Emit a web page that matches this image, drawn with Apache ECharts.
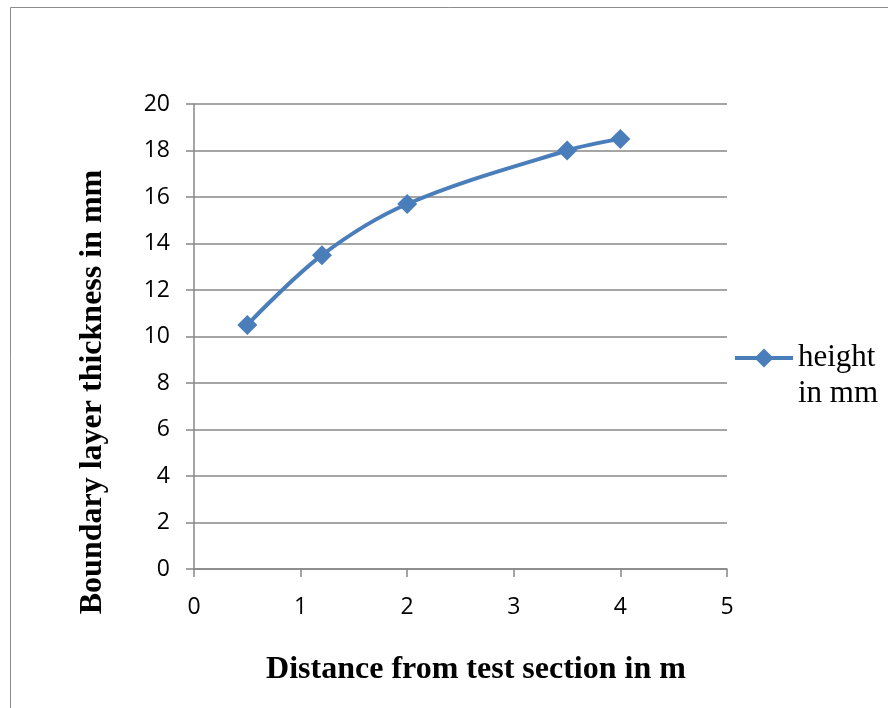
<!DOCTYPE html>
<html>
<head>
<meta charset="utf-8">
<script src="https://cdn.jsdelivr.net/npm/echarts@6/dist/echarts.min.js"></script>
<style>
  html, body { margin: 0; padding: 0; background: #ffffff; }
  #chart { width: 888px; height: 708px; }
</style>
</head>
<body>
<div id="chart"></div>
<script>
// Measured boundary layer thickness along the test section
const distanceM = [0.5, 1.2, 2, 3.5, 4];
const thicknessMm = [10.5, 13.5, 15.7, 18, 18.5];
const seriesName = 'height in mm';
const xTitle = 'Distance from test section in m';
const yTitle = 'Boundary layer thickness in mm';

const points = distanceM.map((x, i) => [x, thicknessMm[i]]);

const gray = '#878787';
const blue = '#4a7ebb';
const tickFont = '"Open Sans", sans-serif';
const serifFont = '"Liberation Serif", "Times New Roman", serif';

const chart = echarts.init(document.getElementById('chart'), null, { renderer: 'canvas' });

chart.setOption({
  backgroundColor: '#ffffff',
  animation: false,
  graphic: [{
    type: 'rect',
    shape: { x: 10.5, y: 7.5, width: 900, height: 720 },
    style: { fill: 'none', stroke: '#8c8c8c', lineWidth: 1 },
    silent: true
  }],
  grid: { left: 194, right: 161, top: 104, bottom: 139 },
  legend: {
    data: [seriesName],
    left: 728,
    top: 299,
    orient: 'vertical',
    itemWidth: 58,
    itemHeight: 24,
    // leading empty line keeps the first line level with the legend icon
    formatter: (name) => '\n' + name.replace(' in ', '\nin '),
    lineStyle: { width: 4 },
    textStyle: {
      fontFamily: serifFont,
      fontSize: 31,
      lineHeight: 36,
      color: '#000000'
    }
  },
  xAxis: {
    type: 'value',
    min: 0,
    max: 5,
    interval: 1,
    name: xTitle,
    nameLocation: 'middle',
    nameGap: 85,
    nameTextStyle: {
      fontFamily: serifFont,
      fontWeight: 'bold',
      fontSize: 32,
      color: '#000000',
      padding: [0, 0, 0, 31]
    },
    axisLine: { show: true, lineStyle: { color: gray, width: 1.5 } },
    axisTick: { show: true, length: 8, lineStyle: { color: gray, width: 1.5 } },
    axisLabel: { fontFamily: tickFont, fontSize: 23, color: '#000000', margin: 27 },
    splitLine: { show: false }
  },
  yAxis: {
    type: 'value',
    min: 0,
    max: 20,
    interval: 2,
    name: yTitle,
    nameLocation: 'middle',
    nameGap: 85,
    nameTextStyle: {
      fontFamily: serifFont,
      fontWeight: 'bold',
      fontSize: 32,
      color: '#000000',
      padding: [0, 111, 0, 0]
    },
    axisLine: { show: true, lineStyle: { color: gray, width: 1.5 } },
    axisTick: { show: true, length: 8, lineStyle: { color: gray, width: 1.5 } },
    axisLabel: { fontFamily: tickFont, fontSize: 23, color: '#000000', margin: 24 },
    splitLine: { show: true, lineStyle: { color: gray, width: 1.5 } }
  },
  series: [{
    name: seriesName,
    type: 'line',
    data: points,
    smooth: 0.35,
    symbol: 'diamond',
    symbolSize: 20,
    lineStyle: { color: blue, width: 4 },
    itemStyle: { color: blue }
  }]
});
</script>
</body>
</html>
